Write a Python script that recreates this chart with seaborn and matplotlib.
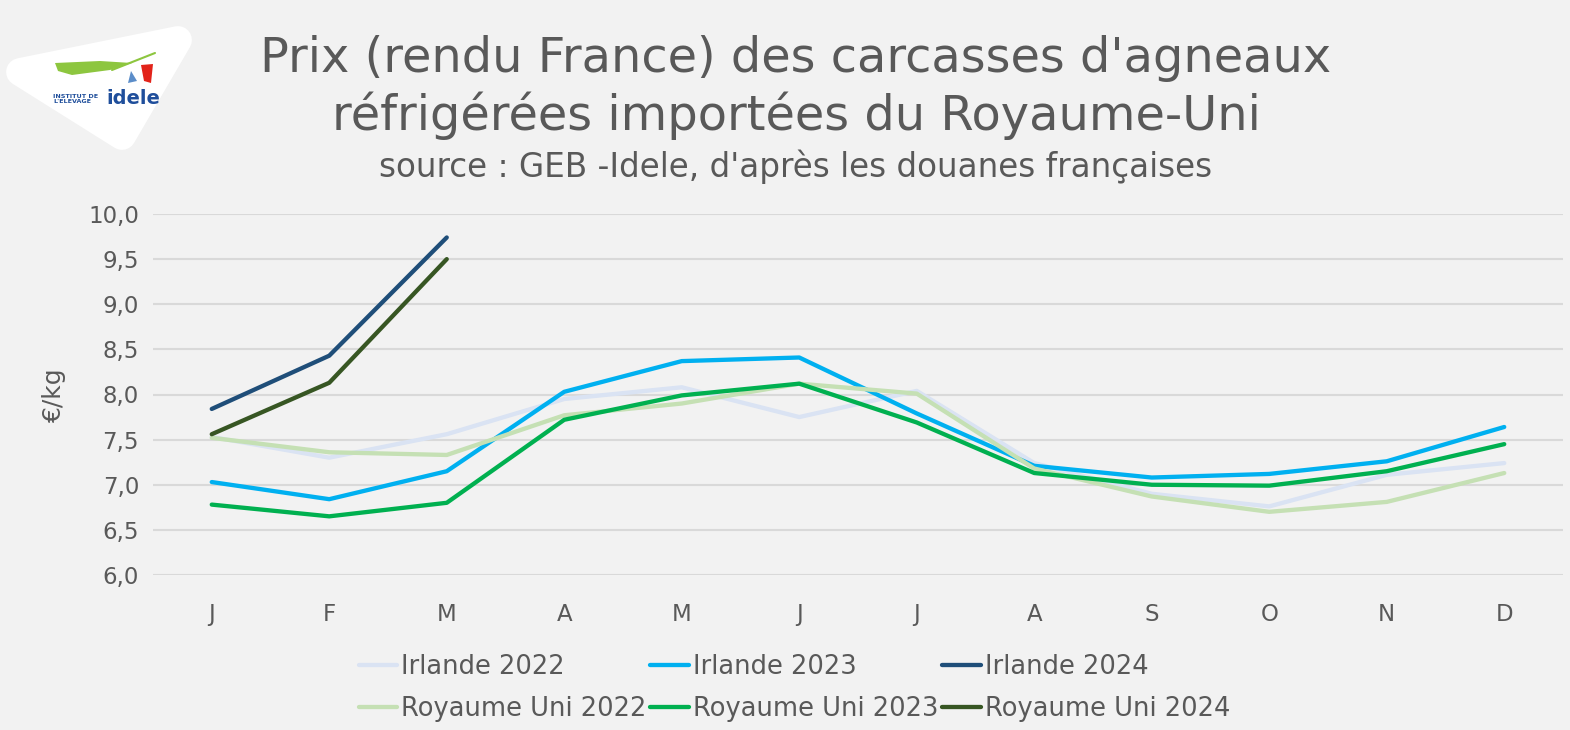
import pandas as pd
import numpy as np
import matplotlib.pyplot as plt
import seaborn as sns
from matplotlib.patches import Polygon

sns.set_theme(style="white")
plt.rcParams['font.family'] = ['DejaVu Sans']

mois = ["J", "F", "M", "A", "M", "J", "J", "A", "S", "O", "N", "D"]
irlande2022 = [7.53, 7.30, 7.56, 7.95, 8.08, 7.75, 8.04, 7.24, 6.90, 6.76, 7.11, 7.24]
irlande2023 = [7.03, 6.84, 7.15, 8.03, 8.37, 8.41, 7.79, 7.21, 7.08, 7.12, 7.26, 7.64]
irlande2024 = [7.84, 8.43, 9.74]
ru2022 = [7.52, 7.36, 7.33, 7.77, 7.90, 8.12, 8.01, 7.18, 6.87, 6.70, 6.81, 7.13]
ru2023 = [6.78, 6.65, 6.80, 7.72, 7.99, 8.12, 7.69, 7.13, 7.00, 6.99, 7.15, 7.45]
ru2024 = [7.56, 8.13, 9.50]

series = {
    "Irlande 2022": irlande2022,
    "Irlande 2023": irlande2023,
    "Irlande 2024": irlande2024,
    "Royaume Uni 2022": ru2022,
    "Royaume Uni 2023": ru2023,
    "Royaume Uni 2024": ru2024,
}
couleurs = {
    "Irlande 2022": "#DAE3F3",
    "Irlande 2023": "#00B0F0",
    "Irlande 2024": "#1F4E79",
    "Royaume Uni 2022": "#C5E0B4",
    "Royaume Uni 2023": "#00B050",
    "Royaume Uni 2024": "#375623",
}

rows = []
for nom, vals in series.items():
    for i, v in enumerate(vals):
        rows.append({"serie": nom, "mois": i, "prix": v})
df = pd.DataFrame(rows)

gris = "#595959"
fond = "#F2F2F2"

fig = plt.figure(figsize=(15.7, 7.3), dpi=100, facecolor=fond)
ax = fig.add_axes([153 / 1570, 1 - 575 / 730, 1410 / 1570, 361 / 730])
ax.set_facecolor(fond)

sns.lineplot(data=df, x="mois", y="prix", hue="serie", palette=couleurs,
             hue_order=list(series.keys()), linewidth=3.1, ax=ax,
             estimator=None, sort=False)

ax.set_xlim(-0.5, len(mois) - 0.5)
ax.set_ylim(6.0, 10.0)
ax.set_yticks(np.arange(6.0, 10.01, 0.5))
ax.set_yticklabels([f"{v:.1f}".replace(".", ",") for v in np.arange(6.0, 10.01, 0.5)])
ax.set_xticks(range(len(mois)))
ax.set_xticklabels(mois)
ax.tick_params(axis="both", length=0, labelsize=16.5, colors=gris, pad=10)
ax.tick_params(axis="x", pad=20)
ax.grid(axis="y", color="#D9D9D9", linewidth=1.5)
ax.set_axisbelow(True)
for s in ax.spines.values():
    s.set_visible(False)
ax.set_xlabel("")
ax.set_ylabel("€/kg", fontsize=18, color=gris, labelpad=16)

handles, labels = ax.get_legend_handles_labels()
ax.get_legend().remove()
ordre = [0, 3, 1, 4, 2, 5]
fig.legend([handles[i] for i in ordre], [labels[i] for i in ordre], ncol=3,
           loc="upper center", bbox_to_anchor=(0.506, 1 - 631 / 730), frameon=False,
           fontsize=18.5, labelcolor=gris, handlelength=1.5, handletextpad=0.15,
           columnspacing=0.15, labelspacing=0.6)

fig.text(0.507, 1 - 58 / 730, "Prix (rendu France) des carcasses d'agneaux",
         ha="center", va="center", fontsize=34.5, color=gris)
fig.text(0.507, 1 - 116 / 730, "réfrigérées importées du Royaume-Uni",
         ha="center", va="center", fontsize=34.5, color=gris)
fig.text(0.507, 1 - 167 / 730, "source : GEB -Idele, d'après les douanes françaises",
         ha="center", va="center", fontsize=23.5, color=gris)

# logo idele
W, H = 1570, 730
def px(x, y):
    return (x / W, 1 - y / H)

logo = Polygon([px(20, 72), px(178, 40), px(122, 136)], closed=True,
               transform=fig.transFigure, facecolor="white", edgecolor="white",
               linewidth=20, joinstyle="round")
fig.patches.append(logo)
vert = Polygon([px(55, 63), px(100, 61), px(132, 63), px(110, 70), px(72, 75), px(58, 71)],
               closed=True, transform=fig.transFigure, facecolor="#8DC63F",
               edgecolor="none")
fig.patches.append(vert)
fig.lines.append(plt.Line2D([112 / W, 155 / W], [1 - 70 / H, 1 - 53 / H],
                            transform=fig.transFigure, color="#8DC63F", linewidth=1.5))
fig.patches.append(Polygon([px(141, 65), px(153, 64), px(151, 83), px(144, 81)],
                           closed=True, transform=fig.transFigure,
                           facecolor="#E2231A", edgecolor="none"))
fig.patches.append(Polygon([px(131, 71), px(137, 81), px(128, 83)],
                           closed=True, transform=fig.transFigure,
                           facecolor="#5B8DC9", edgecolor="none"))
fig.text(53 / W, 1 - 99 / H, "INSTITUT DE\nL'ELEVAGE", fontsize=4.6,
         fontweight="bold", color="#1F4E9B", ha="left", va="center", linespacing=0.95)
fig.text(106 / W, 1 - 98 / H, "idele", fontsize=14, fontweight="bold",
         color="#1F4E9B", ha="left", va="center")

fig.savefig("out.png", dpi=100, facecolor=fond)
